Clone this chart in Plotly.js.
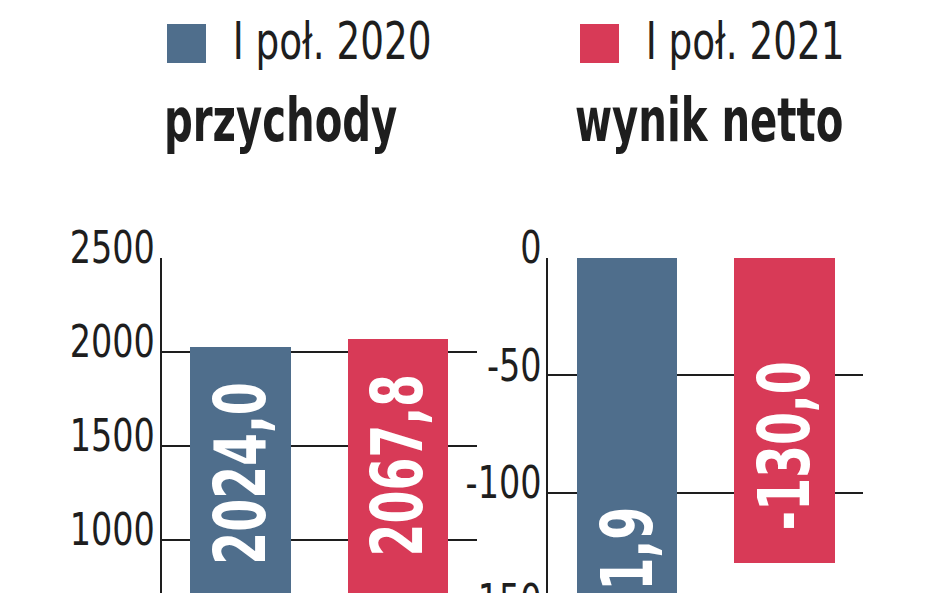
<!DOCTYPE html>
<html>
<head>
<meta charset="utf-8">
<script src="https://cdn.plot.ly/plotly-3.0.1.min.js"></script>
<style>
  html, body { margin: 0; padding: 0; background: #ffffff; }
  #wrap { width: 948px; height: 593px; overflow: hidden; position: relative; }
  #chart { width: 948px; height: 800px; }
</style>
</head>
<body>
<div id="wrap"><div id="chart"></div></div>
<script>
// ---- data ----
const periods = ["I poł. 2020", "I poł. 2021"];
const panelTitles = ["przychody", "wynik netto"];
const revenue = [2024.0, 2067.8];
const netResult = [-191.9, -130.0];
const revenueTicks = [0, 500, 1000, 1500, 2000, 2500];
const netTicks = [-200, -150, -100, -50, 0];

// ---- styles ----
const W = 948, H = 800;
const seriesColors = ["#4f6e8c", "#d83a57"];
const ink = "#1e1e1e";
const narrow = "DejaVu Sans Condensed, DejaVu Sans, sans-serif";
const px = x => x / W;
const py = y => 1 - y / H;

const fmt = v => v.toFixed(1).replace(".", ",");

const barCommon = {
  type: "bar",
  x: periods,
  width: 0.64,
  marker: { color: seriesColors, line: { width: 0 } },
  textposition: "inside",
  insidetextanchor: "end",
  textangle: -90,
  textfont: { family: narrow, size: 71, color: "#ffffff", weight: 700 },
  hoverinfo: "skip",
  showlegend: false,
  cliponaxis: true
};

const traces = [
  Object.assign({}, barCommon, { y: revenue, text: revenue.map(fmt), xaxis: "x", yaxis: "y" }),
  Object.assign({}, barCommon, { y: netResult, text: netResult.map(fmt), xaxis: "x2", yaxis: "y2" })
];

const yCommon = {
  showgrid: true,
  gridcolor: ink,
  gridwidth: 2,
  showline: true,
  linecolor: ink,
  linewidth: 2,
  zeroline: false,
  ticks: "",
  ticklen: 0,
  tickmode: "array",
  tickfont: { family: narrow, size: 44, color: ink },
  ticklabelshift: -10,
  ticklabelstandoff: -4,
  fixedrange: true
};
const xCommon = {
  type: "category",
  range: [-0.5, 1.5],
  showticklabels: false,
  showgrid: false,
  zeroline: false,
  showline: false,
  ticks: "",
  fixedrange: true
};

const legendFont = { family: narrow, size: 51, color: ink };
const titleFont = { family: narrow, size: 60, color: ink, weight: 700 };

const layout = {
  width: W,
  height: H,
  margin: { l: 0, r: 0, t: 0, b: 0, pad: 0 },
  paper_bgcolor: "#ffffff",
  plot_bgcolor: "#ffffff",
  showlegend: false,
  bargap: 0,
  xaxis: Object.assign({}, xCommon, { domain: [px(161.7), px(476.7)], anchor: "y" }),
  yaxis: Object.assign({}, yCommon, {
    domain: [py(727.7), py(257.7)], anchor: "x",
    range: [0, 2500], tickvals: revenueTicks, ticktext: revenueTicks.map(String)
  }),
  xaxis2: Object.assign({}, xCommon, { domain: [px(548.3), px(863.3)], anchor: "y2" }),
  yaxis2: Object.assign({}, yCommon, {
    domain: [py(727.7), py(257.7)], anchor: "x2",
    range: [-200, 0], tickvals: netTicks, ticktext: netTicks.map(String)
  }),
  shapes: [
    { type: "rect", xref: "paper", yref: "paper", x0: px(167), x1: px(206), y0: py(63), y1: py(24),
      fillcolor: seriesColors[0], line: { width: 0 } },
    { type: "rect", xref: "paper", yref: "paper", x0: px(580), x1: px(619), y0: py(63), y1: py(24),
      fillcolor: seriesColors[1], line: { width: 0 } }
  ],
  annotations: [
    { xref: "paper", yref: "paper", x: px(331.5), y: py(42), xanchor: "center", yanchor: "middle",
      text: periods[0], showarrow: false, font: legendFont },
    { xref: "paper", yref: "paper", x: px(744.5), y: py(42), xanchor: "center", yanchor: "middle",
      text: periods[1], showarrow: false, font: legendFont },
    { xref: "paper", yref: "paper", x: px(280), y: py(120), xanchor: "center", yanchor: "middle",
      text: panelTitles[0], showarrow: false, font: titleFont },
    { xref: "paper", yref: "paper", x: px(709), y: py(120), xanchor: "center", yanchor: "middle",
      text: panelTitles[1], showarrow: false, font: titleFont }
  ]
};

// condensed look: compress real SVG text horizontally (the reference uses a condensed face)
function squeeze(nodes, k) {
  nodes.forEach(t => {
    const w = t.getComputedTextLength();
    if (w > 0) {
      t.setAttribute("textLength", (w * k).toFixed(1));
      t.setAttribute("lengthAdjust", "spacingAndGlyphs");
    }
  });
}

Plotly.newPlot("chart", traces, layout, { staticPlot: true, displayModeBar: false }).then(gd => {
  squeeze(gd.querySelectorAll(".ytick text, .y2tick text"), 0.845);
  squeeze(gd.querySelectorAll(".bartext"), 0.74);
  const ann = gd.querySelectorAll(".annotation-text");
  squeeze([ann[0], ann[1]].filter(Boolean), 0.814);
  squeeze([ann[2], ann[3]].filter(Boolean), 0.745);
});
</script>
</body>
</html>
